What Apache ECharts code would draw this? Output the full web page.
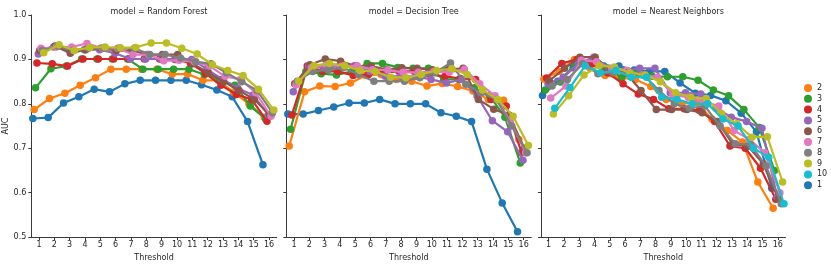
<!DOCTYPE html>
<html>
<head>
<meta charset="utf-8">
<script src="https://cdn.jsdelivr.net/npm/echarts@6/dist/echarts.min.js"></script>
<style>html,body{margin:0;padding:0;background:#fff}#c{width:831px;height:267px}</style>
</head>
<body>
<div id="c"></div>
<script>
const thresholds = [1,2,3,4,5,6,7,8,9,10,11,12,13,14,15,16];
const models = ['Random Forest','Decision Tree','Nearest Neighbors'];
const hues = ['1','2','3','4','5','6','7','8','9','10'];
const legendOrder = ['2','3','4','5','6','7','8','9','10','1'];
const yTicks = [0.5,0.6,0.7,0.8,0.9,1.0];

// Random Forest
const rf1 = [.767,.769,.802,.816,.833,.827,.845,.853,.853,.853,.853,.843,.831,.816,.760,.663];
const rf2 = [.787,.812,.824,.842,.859,.878,.878,.878,.878,.867,.867,.853,.853,.826,.800,.770];
const rf3 = [.836,.879,.885,.901,.901,.901,.901,.878,.878,.878,.878,.866,.855,.842,.795,.766];
const rf4 = [.892,.890,.885,.901,.901,.901,.901,.901,.901,.900,.892,.868,.842,.821,.810,.761];
const rf5 = [.912,.928,.922,.922,.922,.914,.901,.901,.901,.900,.900,.878,.855,.835,.820,.775];
const rf6 = [.920,.930,.914,.922,.925,.920,.920,.911,.911,.911,.890,.870,.850,.830,.810,.775];
const rf7 = [.925,.928,.928,.936,.925,.925,.911,.911,.897,.898,.895,.885,.862,.855,.825,.772];
const rf8 = [.920,.930,.920,.925,.925,.925,.925,.911,.911,.903,.895,.890,.870,.850,.830,.780];
const rf9 = [.915,.933,.920,.927,.928,.926,.927,.937,.937,.925,.912,.888,.875,.864,.833,.786];

// Decision Tree
const dt1 = [.777,.777,.785,.793,.802,.802,.810,.800,.800,.800,.780,.772,.760,.653,.577,.512];
const dt2 = [.705,.827,.840,.839,.847,.864,.866,.855,.851,.840,.846,.839,.829,.810,.808,.720];
const dt3 = [.743,.873,.868,.865,.873,.891,.891,.882,.880,.880,.855,.855,.836,.818,.770,.667];
const dt4 = [.775,.885,.873,.873,.864,.866,.871,.873,.873,.866,.862,.857,.855,.810,.795,.690];
const dt5 = [.827,.885,.881,.885,.886,.873,.862,.862,.862,.855,.847,.855,.818,.762,.737,.673];
const dt6 = [.845,.888,.901,.896,.885,.885,.877,.881,.880,.877,.877,.880,.810,.788,.775,.700];
const dt7 = [.843,.881,.888,.885,.886,.877,.876,.871,.871,.873,.871,.878,.845,.818,.760,.690];
const dt8 = [.851,.873,.877,.881,.866,.851,.851,.851,.859,.870,.892,.844,.825,.810,.750,.690];
const dt9 = [.851,.886,.891,.886,.875,.873,.860,.859,.866,.875,.879,.866,.831,.810,.772,.706];

// Nearest Neighbors
const nn1 = [.819,.851,.881,.892,.885,.885,.876,.873,.873,.847,.824,.819,.807,.779,.737,.610];
const nn2 = [.856,.873,.900,.881,.864,.859,.855,.839,.810,.800,.803,.766,.740,.714,.624,.565];
const nn3 = [.831,.849,.893,.893,.881,.859,.871,.862,.861,.861,.853,.831,.818,.787,.747,.650];
const nn4 = [.858,.891,.900,.890,.870,.845,.822,.810,.789,.789,.785,.760,.705,.700,.655,.585];
const nn5 = [.845,.860,.890,.905,.880,.875,.880,.880,.825,.825,.822,.790,.770,.760,.745,.590];
const nn6 = [.852,.880,.905,.905,.875,.870,.830,.787,.787,.787,.780,.760,.710,.705,.665,.585];
const nn7 = [.813,.840,.898,.895,.880,.875,.865,.860,.820,.815,.805,.795,.740,.720,.690,.600];
const nn8 = [.840,.855,.890,.868,.870,.870,.865,.830,.800,.790,.795,.750,.710,.708,.660,.575];
const nn9 = [.777,.818,.865,.886,.883,.870,.865,.850,.825,.815,.812,.778,.755,.725,.726,.624];
const nn10 = [.790,.837,.886,.870,.875,.860,.860,.815,.810,.800,.800,.766,.750,.700,.680,.575];

const panelData = [
  [rf1, rf2, rf3, rf4, rf5, rf6, rf7, rf8, rf9, null],
  [dt1, dt2, dt3, dt4, dt5, dt6, dt7, dt8, dt9, null],
  [nn1, nn2, nn3, nn4, nn5, nn6, nn7, nn8, nn9, nn10]
];

const colors = {'1':'#1f77b4','2':'#ff7f0e','3':'#2ca02c','4':'#d62728','5':'#9467bd','6':'#8c564b','7':'#e377c2','8':'#7f7f7f','9':'#bcbd22','10':'#17becf'};

const FONT = 'DejaVu Sans';
const TXT = '#262626';
const AX = '#3a3a3a';
const grids = [
  {left: 31.3, top: 15, width: 245.4, height: 224},
  {left: 286.3, top: 15, width: 245, height: 224},
  {left: 541, top: 15, width: 244.5, height: 224}
];

const dodge = 0.8;
function offset(i){ return -dodge/2 + i*dodge/(hues.length-1); }

const xAxis = grids.map((g, k) => ({
  type: 'value', gridIndex: k, min: 0.5, max: 16.5,
  name: 'Threshold', nameLocation: 'middle', nameGap: 15,
  nameTextStyle: {fontFamily: FONT, fontSize: 8, color: TXT},
  axisLine: {show: true, lineStyle: {color: AX, width: 1}},
  axisTick: {show: true, length: 3, lineStyle: {color: AX}, customValues: thresholds},
  axisLabel: {fontFamily: FONT, fontSize: 8, color: TXT, margin: 4, customValues: thresholds},
  splitLine: {show: false}
}));
const yAxis = grids.map((g, k) => ({
  type: 'value', gridIndex: k, min: 0.5, max: 1.0, interval: 0.1,
  name: k === 0 ? 'AUC' : '', nameLocation: 'middle', nameGap: 18,
  nameTextStyle: {fontFamily: FONT, fontSize: 8, color: TXT},
  axisLine: {show: true, lineStyle: {color: AX, width: 1}},
  axisTick: {show: true, length: 3, lineStyle: {color: AX}},
  axisLabel: {show: k === 0, fontFamily: FONT, fontSize: 8, color: TXT, margin: 5,
    formatter: v => v.toFixed(1)},
  splitLine: {show: false}
}));

const series = [];
panelData.forEach((arrs, k) => {
  arrs.forEach((arr, i) => {
    if (!arr) return;
    const h = hues[i];
    series.push({
      type: 'line', name: h, xAxisIndex: k, yAxisIndex: k,
      data: thresholds.map((t, j) => [t + offset(i), arr[j]]),
      symbol: 'circle', symbolSize: 7.5, showSymbol: true,
      lineStyle: {width: 2.2, color: colors[h]},
      itemStyle: {color: colors[h]},
      z: 2 + i, animation: false, silent: true
    });
  });
});

const titles = models.map((m, k) => ({
  text: 'model = ' + m,
  left: grids[k].left + grids[k].width/2, top: 3, textAlign: 'center',
  textStyle: {fontFamily: FONT, fontSize: 8, fontWeight: 'normal', color: TXT}
}));

const chart = echarts.init(document.getElementById('c'), null, {renderer: 'canvas'});
chart.setOption({
  animation: false,
  color: hues.map(h => colors[h]),
  title: titles,
  grid: grids,
  xAxis, yAxis, series,
  legend: {
    data: legendOrder.map(n => ({name: n, icon: 'circle'})),
    orient: 'vertical', left: 799, top: 79,
    itemWidth: 8, itemHeight: 8, itemGap: 2.8,
    textStyle: {fontFamily: FONT, fontSize: 8, color: TXT},
    selectedMode: false
  }
});
</script>
</body>
</html>
